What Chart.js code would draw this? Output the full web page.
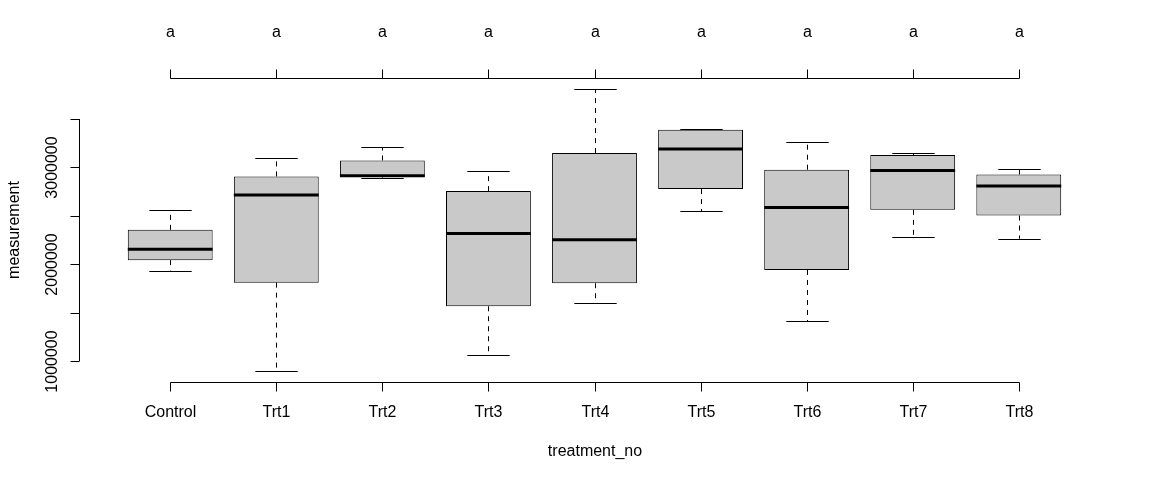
<!DOCTYPE html>
<html>
<head>
<meta charset="utf-8">
<script src="https://cdn.jsdelivr.net/npm/chart.js@4"></script>
<style>
  html, body { margin: 0; padding: 0; background: #fff; }
  #wrap { width: 1152px; height: 480px; }
</style>
</head>
<body>
<div id="wrap"><canvas id="boxChart"></canvas></div>
<script>
const categories = ['Control', 'Trt1', 'Trt2', 'Trt3', 'Trt4', 'Trt5', 'Trt6', 'Trt7', 'Trt8'];
const lowerWhisker = [1934000, 900000, 2895000, 1062000, 1597000, 2549000, 1414000, 2286000, 2262000];
const q1 = [2042000, 1810000, 2900000, 1566000, 1804000, 2776000, 1941000, 2562000, 2503000];
const median = [2155000, 2714000, 2914000, 2317000, 2252000, 3190000, 2586000, 2969000, 2807000];
const q3 = [2355000, 2907000, 3072000, 2755000, 3148000, 3390000, 2976000, 3128000, 2927000];
const upperWhisker = [2555000, 3093000, 3207000, 2958000, 3807000, 3397000, 3258000, 3148000, 2982000];
const groupLetters = ['a', 'a', 'a', 'a', 'a', 'a', 'a', 'a', 'a'];
const yTicks = [1000000, 1500000, 2000000, 2500000, 3000000, 3500000];
const yTickLabels = ['1000000', '', '2000000', '', '3000000', ''];

const FONT = '16px "Liberation Sans", Arial, sans-serif';

// faixa do eixo y como no R (4% de extensão)
const dataMin = Math.min(...lowerWhisker);
const dataMax = Math.max(...upperWhisker);
const ext = (dataMax - dataMin) * 0.04;

const line = (ctx, x1, y1, x2, y2) => {
  ctx.beginPath();
  ctx.moveTo(x1, y1);
  ctx.lineTo(x2, y2);
  ctx.stroke();
};

const boxExtras = {
  id: 'boxExtras',
  afterDatasetsDraw(chart) {
    const ctx = chart.ctx;
    const xs = chart.scales.x;
    const ys = chart.scales.y;
    const area = chart.chartArea;
    const meta = chart.getDatasetMeta(0);
    const T = 9; // tamanho do tick

    ctx.save();
    ctx.strokeStyle = '#000';
    ctx.fillStyle = '#000';

    // bigodes e medianas
    meta.data.forEach((bar, i) => {
      const cx = Math.round(bar.x) + 0.5;
      const w = bar.width;
      ctx.lineWidth = 1;
      ctx.setLineDash([5, 5]);
      line(ctx, cx, ys.getPixelForValue(q3[i]), cx, ys.getPixelForValue(upperWhisker[i]));
      line(ctx, cx, ys.getPixelForValue(q1[i]), cx, ys.getPixelForValue(lowerWhisker[i]));
      ctx.setLineDash([]);
      const yu = Math.round(ys.getPixelForValue(upperWhisker[i])) + 0.5;
      const yl = Math.round(ys.getPixelForValue(lowerWhisker[i])) + 0.5;
      line(ctx, cx - w / 4, yu, cx + w / 4, yu);
      line(ctx, cx - w / 4, yl, cx + w / 4, yl);
      ctx.lineWidth = 3;
      const ym = ys.getPixelForValue(median[i]);
      line(ctx, bar.x - w / 2, ym, bar.x + w / 2, ym);
    });

    ctx.lineWidth = 1;
    ctx.font = FONT;
    ctx.textAlign = 'center';
    ctx.textBaseline = 'alphabetic';

    // eixo inferior e superior
    const xFirst = Math.round(xs.getPixelForValue(0)) + 0.5;
    const xLast = Math.round(xs.getPixelForValue(categories.length - 1)) + 0.5;
    const yb = Math.round(area.bottom) + 0.5;
    const yt = Math.round(area.top) + 0.5;
    line(ctx, xFirst, yb, xLast, yb);
    line(ctx, xFirst, yt, xLast, yt);
    categories.forEach((c, i) => {
      const px = Math.round(xs.getPixelForValue(i)) + 0.5;
      line(ctx, px, yb, px, yb + T);
      line(ctx, px, yt, px, yt - T);
      ctx.fillText(c, px, 417);
      ctx.fillText(groupLetters[i], px, 37);
    });
    ctx.fillText('treatment_no', (xFirst + xLast) / 2, 456);

    // eixo y
    const xl = Math.round(area.left) + 0.5;
    line(ctx, xl, ys.getPixelForValue(yTicks[0]), xl, ys.getPixelForValue(yTicks[yTicks.length - 1]));
    yTicks.forEach((v, i) => {
      const py = Math.round(ys.getPixelForValue(v)) + 0.5;
      line(ctx, xl, py, xl - T, py);
      if (yTickLabels[i]) {
        ctx.save();
        ctx.translate(56.5, py);
        ctx.rotate(-Math.PI / 2);
        ctx.fillText(yTickLabels[i], 0, 0);
        ctx.restore();
      }
    });
    ctx.save();
    ctx.translate(18.5, (area.top + area.bottom) / 2);
    ctx.rotate(-Math.PI / 2);
    ctx.fillText('measurement', 0, 0);
    ctx.restore();

    ctx.restore();
  }
};

const ctxBox = document.getElementById('boxChart').getContext('2d');

const boxChart = new Chart(ctxBox, {
  type: 'bar',
  data: {
    datasets: [{
      label: 'measurement',
      data: categories.map((c, i) => ({ x: i, y: [q1[i], q3[i]] })),
      backgroundColor: '#c9c9c9',
      borderColor: '#000',
      borderWidth: 1,
      borderSkipped: false,
      barPercentage: 0.8,
      categoryPercentage: 1
    }]
  },
  options: {
    responsive: true,
    maintainAspectRatio: false,
    animation: false,
    layout: {
      padding: { left: 79, right: 42, top: 78, bottom: 98 }
    },
    plugins: {
      legend: { display: false },
      tooltip: { enabled: false }
    },
    scales: {
      x: {
        type: 'linear',
        offset: false,
        min: -0.86,
        max: categories.length - 1 + 0.86,
        ticks: { stepSize: 1, includeBounds: false },
        display: false
      },
      y: {
        type: 'linear',
        min: dataMin - ext,
        max: dataMax + ext,
        display: false
      }
    }
  },
  plugins: [boxExtras]
});
</script>
</body>
</html>
